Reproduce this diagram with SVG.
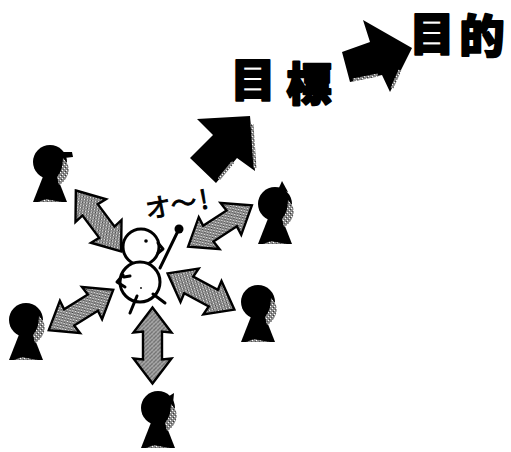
<svg xmlns="http://www.w3.org/2000/svg" xmlns:xlink="http://www.w3.org/1999/xlink" width="511" height="452" viewBox="0 0 511 452">
  <style>
    .title { font-family: "Noto Sans CJK JP", "Noto Sans CJK SC", sans-serif; font-weight: 900; font-size: 45px; fill: #000; stroke: #000; stroke-width: 2.2; stroke-linejoin: round; }
    .hand { font-family: "Noto Sans CJK JP", "Noto Sans CJK SC", sans-serif; font-size: 26px; fill: #000; stroke: #000; stroke-width: 0.9; }
    .big-arrow { fill: #000; }
    .edge { fill: none; stroke: url(#dither); stroke-width: 3; }
    .swap { fill: url(#dither); stroke: #000; stroke-width: 2.4; stroke-linejoin: miter; }
    .ink { fill: #000; }
    .line { fill: none; stroke: #000; stroke-width: 3; stroke-linecap: round; stroke-linejoin: round; }
  </style>
  <defs>
    <!-- mottled gray screen tone -->
    <pattern id="dither" width="4" height="4" patternUnits="userSpaceOnUse">
      <rect width="4" height="4" fill="#8a8a8a"/>
      <rect x="0" y="0" width="1" height="1" fill="#fff"/>
      <rect x="2" y="2" width="1" height="1" fill="#fff"/>
      <rect x="3" y="1" width="1" height="1" fill="#333"/>
      <rect x="1" y="3" width="1" height="1" fill="#555"/>
    </pattern>
    <!-- two-headed arrow, centred on the origin, pointing along x -->
    <path id="swap-arrow" class="swap" d="M -38 0 L -13 -19 L -14 -9.5 L 14 -9.5 L 13 -19 L 38 0 L 13 19 L 14 9.5 L -14 9.5 L -13 19 Z"/>
    <!-- silhouette: round head over a triangular body, face on the right -->
    <g id="figure">
      <circle class="ink" cx="0" cy="0" r="17"/>
      <path class="ink" d="M -6 12 L -17 40 L 17 40 L 6 12 Z"/>
      <path fill="url(#dither)" d="M 13 -4 Q 21 4 18 12 Q 15 20 9 23 L 7 15 Q 13 8 13 -4 Z"/>
      <path fill="url(#dither)" d="M -12 40 L -4 37 L 6 39 L 12 40 Z"/>
    </g>
  </defs>

  <!-- heading -->
  <g id="label-goal">
    <text class="title" x="253" y="97" text-anchor="middle">目</text>
    <text class="title" x="309" y="101" text-anchor="middle">標</text>
  </g>
  <g id="label-purpose">
    <text class="title" x="432" y="51" text-anchor="middle">目</text>
    <text class="title" x="482" y="53" text-anchor="middle">的</text>
  </g>

  <!-- progress arrows -->
  <g id="progress-arrows">
    <polygon class="big-arrow" points="250,116 197,119 213,135 190,158 216,183 237,158 255,171"/>
    <path class="edge" d="M 252 124 L 255 168 M 219 179 L 233 162"/>
    <polygon class="big-arrow" points="342,52 370,42 363,20 412,48 390,92 382,75 350,82"/>
    <path class="edge" d="M 353 80 L 378 75 M 400 70 L 392 88"/>
  </g>

  <!-- exchange arrows between the centre and each person -->
  <g id="connectors">
    <use href="#swap-arrow" transform="translate(98.5,221) rotate(53.4)"/>
    <use href="#swap-arrow" transform="translate(220,226) rotate(-33)"/>
    <use href="#swap-arrow" transform="translate(201,291.5) rotate(28.5)"/>
    <use href="#swap-arrow" transform="translate(81,310) rotate(-32)"/>
    <use href="#swap-arrow" transform="translate(152.5,345.5) rotate(90)"/>
  </g>

  <!-- central character -->
  <g id="leader">
    <circle cx="141" cy="247" r="18" fill="#fff" stroke="#000" stroke-width="3"/>
    <circle cx="140" cy="282" r="20" fill="#fff" stroke="#000" stroke-width="3"/>
    <circle class="ink" cx="146" cy="241" r="1.8"/>
    <path class="line" d="M 158 243 L 163 249 L 158 253" stroke-width="2.5"/>
    <path class="line" d="M 160 268 L 178 231"/>
    <circle class="ink" cx="179" cy="229" r="4.5"/>
    <path class="line" d="M 123 275 L 117 282 L 125 287 M 124 277 L 130 276" stroke-width="2.5"/>
    <circle class="ink" cx="141" cy="288" r="0.9"/>
    <path class="line" d="M 137 296 L 130 313 M 153 294 L 165 303"/>
    <text class="hand" transform="translate(147,219) rotate(-10)">オ〜<tspan dx="3">!</tspan></text>
  </g>

  <!-- surrounding people -->
  <g id="person-top-left">
    <use href="#figure" transform="translate(50,162)"/>
    <path class="ink" d="M 60 152 L 72 152 L 73 157 L 64 158 Z"/>
  </g>
  <g id="person-right">
    <use href="#figure" transform="translate(275,204)"/>
    <path class="ink" d="M 278 190 L 282 181 L 288 192 Z"/>
  </g>
  <g id="person-lower-right">
    <use href="#figure" transform="translate(258,302)"/>
  </g>
  <g id="person-left">
    <use href="#figure" transform="translate(26,320)"/>
  </g>
  <g id="person-bottom">
    <use href="#figure" transform="translate(158,408)"/>
    <path class="ink" d="M 166 398 L 174 393 L 173 404 Z"/>
  </g>
</svg>
